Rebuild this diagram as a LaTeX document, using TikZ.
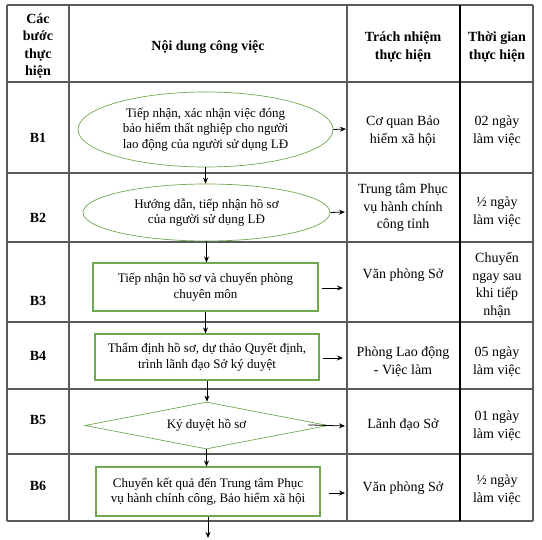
\documentclass[tikz,border=0pt]{standalone}
\usepackage{fontspec}
\setmainfont{Liberation Serif}
\usetikzlibrary{shapes.geometric,arrows.meta}
\definecolor{shapegreen}{RGB}{112,168,80}
\definecolor{gridgray}{RGB}{90,90,90}
\tikzset{
  grid/.style={draw=gridgray,line width=1.1pt},
  headtxt/.style={font=\bfseries\fontsize{14}{17.5}\selectfont,align=center,inner sep=0pt},
  steptxt/.style={font=\bfseries\fontsize{14}{17.5}\selectfont,inner sep=0pt},
  coltxt/.style={font=\fontsize{14}{17.5}\selectfont,align=center,inner sep=0pt},
  shapetxt/.style={font=\fontsize{13}{15.5}\selectfont,align=center,inner sep=0pt},
  ellbox/.style={shapetxt,ellipse,draw=shapegreen,line width=0.7pt},
  rectbox/.style={shapetxt,rectangle,draw=shapegreen,line width=1.2pt},
  diabox/.style={shapetxt,diamond,draw=shapegreen,line width=0.7pt,shape aspect=5},
  flow/.style={-{Stealth[length=6pt,width=5pt]},line width=0.8pt,black},
}
\begin{document}
\begin{tikzpicture}[x=1pt,y=-1pt]
\useasboundingbox (0,0) rectangle (542,540);
% table grid
\foreach \yy in {5,82,173,242,322,389,454,521}
  \draw[grid] (7,\yy) -- (533,\yy);
\foreach \xx in {7,69,347,533}
  \draw[grid] (\xx,5) -- (\xx,521);
\draw[line width=1.1pt,black] (460,5) -- (460,521);

% header
\node[headtxt] (h1) at (38,46) {Các\\bước\\thực\\hiện};
\node[headtxt] (h2) at (208,47) {Nội dung công việc};
\node[headtxt] (h3) at (403,47) {Trách nhiệm\\thực hiện};
\node[headtxt] (h4) at (497,47) {Thời gian\\thực hiện};

% step labels
\node[steptxt] (b1) at (38,138) {B1};
\node[steptxt] (b2) at (38,218) {B2};
\node[steptxt] (b3) at (38,301) {B3};
\node[steptxt] (b4) at (38,356) {B4};
\node[steptxt] (b5) at (38,420) {B5};
\node[steptxt] (b6) at (38,486) {B6};

% flow shapes
\node[ellbox,minimum width=255pt,minimum height=75pt] (s1) at (205.5,129.5)
  {Tiếp nhận, xác nhận việc đóng\\bảo hiểm thất nghiệp cho người\\lao động của người sử dụng LĐ};
\node[ellbox,minimum width=247pt,minimum height=57pt] (s2) at (206.5,212.5)
  {Hướng dẫn, tiếp nhận hồ sơ\\của người sử dụng LĐ};
\node[rectbox,minimum width=225pt,minimum height=48pt] (s3) at (205.5,287)
  {Tiếp nhận hồ sơ và chuyển phòng\\chuyên môn};
\node[rectbox,minimum width=224pt,minimum height=46pt] (s4) at (207,357)
  {Thẩm định hồ sơ, dự thảo Quyết định,\\trình lãnh đạo Sở ký duyệt};
\node[diabox,minimum width=243pt,minimum height=47pt] (s5) at (206.5,425.5)
  {Ký duyệt hồ sơ};
\node[rectbox,minimum width=224pt,minimum height=49pt] (s6) at (208,491.5)
  {Chuyển kết quả đến Trung tâm Phục\\vụ hành chính công, Bảo hiểm xã hội};

% responsibility column
\node[coltxt] (r1) at (403,131) {Cơ quan Bảo\\hiểm xã hội};
\node[coltxt] (r2) at (403,208) {Trung tâm Phục\\vụ hành chính\\công tỉnh};
\node[coltxt] (r3) at (403,275) {Văn phòng Sở};
\node[coltxt] (r4) at (403,362) {Phòng Lao động\\- Việc làm};
\node[coltxt] (r5) at (403,425) {Lãnh đạo Sở};
\node[coltxt] (r6) at (403,488) {Văn phòng Sở};

% time column
\node[coltxt] (t1) at (497,131) {02 ngày\\làm việc};
\node[coltxt] (t2) at (497,212) {½ ngày\\làm việc};
\node[coltxt] (t3) at (497,285) {Chuyển\\ngay sau\\khi tiếp\\nhận};
\node[coltxt] (t4) at (497,362) {05 ngày\\làm việc};
\node[coltxt] (t5) at (497,426) {01 ngày\\làm việc};
\node[coltxt] (t6) at (497,490) {½ ngày\\làm việc};

% arrow targets on the column line
\coordinate (e1) at (346,129);
\coordinate (e2) at (345,212);
\coordinate (e3) at (343,288);
\coordinate (e4) at (343,358);
\coordinate (e5) at (345,426);
\coordinate (e6) at (345,493);
\coordinate (fin) at (208,538);

% horizontal arrows
\draw[flow] (s1.east) -- (e1);
\draw[flow] (s2.east) -- (e2);
\draw[flow,shorten <=3pt] (s3.east |- e3) -- (e3);
\draw[flow,shorten <=3pt] (s4.east |- e4) -- (e4);
\draw[flow,shorten <=-20pt] (s5.east) -- (e5);
\draw[flow,shorten <=8pt] (s6.east |- e6) -- (e6);

% vertical arrows
\draw[flow] (s1.south) -- (s1.south |- s2.north);
\draw[flow] (s2.south) -- (s2.south |- s3.north);
\draw[flow] (s3.south) -- (s3.south |- s4.north);
\draw[flow] (s4.south) -- (s4.south |- s5.north);
\draw[flow] (s5.south) -- (s5.south |- s6.north);
\draw[flow] (s6.south) -- (s6.south |- fin);
\end{tikzpicture}
\end{document}
